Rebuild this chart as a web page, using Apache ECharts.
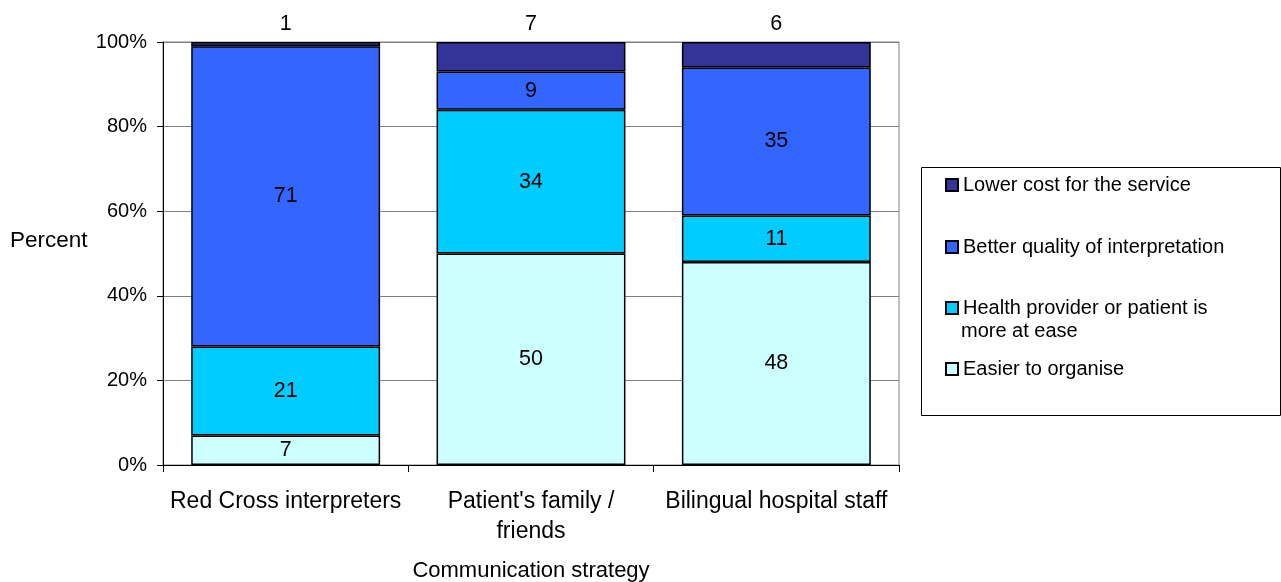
<!DOCTYPE html>
<html>
<head>
<meta charset="utf-8">
<script src="https://cdn.jsdelivr.net/npm/echarts@6/dist/echarts.min.js"></script>
<style>html,body{margin:0;padding:0;background:#fff;}#c{width:1281px;height:582px;}</style>
</head>
<body>
<div id="c"></div>
<script>
var categories = ["Red Cross interpreters", "Patient's family /\nfriends", "Bilingual hospital staff"];
var seriesNames = ["Easier to organise", "Health provider or patient is more at ease", "Better quality of interpretation", "Lower cost for the service"];
var easier = [7, 50, 48];
var atEase = [21, 34, 11];
var quality = [71, 9, 35];
var cost = [1, 7, 6];
var yTicks = [0, 20, 40, 60, 80, 100];

var colors = ["#CCFFFF", "#00CCFF", "#3366FF", "#333399"];
var font = "Liberation Sans, Arial, sans-serif";
var values = [easier, atEase, quality, cost];

var chart = echarts.init(document.getElementById('c'));
var series = seriesNames.map(function (n, i) {
  return {
    name: n,
    type: 'bar',
    stack: 'total',
    barWidth: '77%',
    data: values[i],
    itemStyle: { color: colors[i], borderColor: '#000', borderWidth: 1.5 },
    label: {
      show: true,
      position: i === 3 ? 'top' : 'inside',
      distance: 7,
      color: '#000',
      fontFamily: font,
      fontSize: 21.5
    },
    emphasis: { disabled: true }
  };
});

var legendCenters = { "Lower cost for the service": 185, "Better quality of interpretation": 247, "Health provider or patient is more at ease": 308, "Easier to organise": 369 };
var legends = Object.keys(legendCenters).map(function (n) {
  return {
    data: [n],
    left: 940,
    top: legendCenters[n] - 15,
    itemWidth: 12,
    itemHeight: 12,
    itemGap: 4,
    icon: 'rect',
    selectedMode: false,
    formatter: function (name) { return name === "Health provider or patient is more at ease" ? "Health provider or patient is" : name; },
    textStyle: { fontFamily: font, fontSize: 20, color: '#000', lineHeight: 20 }
  };
});

chart.setOption({
  animation: false,
  backgroundColor: '#fff',
  grid: { left: 163, right: 382, top: 42, bottom: 117, show: true, borderColor: '#808080', borderWidth: 1, containLabel: false, outerBoundsMode: 'none' },
  legend: legends,
  xAxis: {
    type: 'category',
    data: categories,
    name: 'Communication strategy',
    nameLocation: 'middle',
    nameGap: 95,
    nameTextStyle: { fontFamily: font, fontSize: 22, color: '#000' },
    axisLine: { lineStyle: { color: '#000', width: 1 } },
    axisTick: { show: true, length: 7, lineStyle: { color: '#000' } },
    axisLabel: { fontFamily: font, fontSize: 23, color: '#000', margin: 22, lineHeight: 30, interval: 0 }
  },
  yAxis: {
    type: 'value',
    min: yTicks[0],
    max: yTicks[yTicks.length - 1],
    interval: 20,
    axisLine: { show: true, lineStyle: { color: '#000', width: 1 } },
    axisTick: { show: true, length: 6, lineStyle: { color: '#000' } },
    axisLabel: { formatter: '{value}%', fontFamily: font, fontSize: 20, color: '#000', margin: 16 },
    splitLine: { show: true, lineStyle: { color: '#808080', width: 1 } }
  },
  graphic: [
    { type: 'rect', z: -1, shape: { x: 921.5, y: 167.5, width: 359, height: 248 }, style: { fill: 'none', stroke: '#000', lineWidth: 1 } },
    { type: 'text', left: 961, top: 321, style: { text: 'more at ease', fontFamily: font, fontSize: 20, fill: '#000' } },
    { type: 'text', left: 10, top: 229, style: { text: 'Percent', fontFamily: font, fontSize: 22.5, fill: '#000' } }
  ],
  series: series
});
</script>
</body>
</html>
